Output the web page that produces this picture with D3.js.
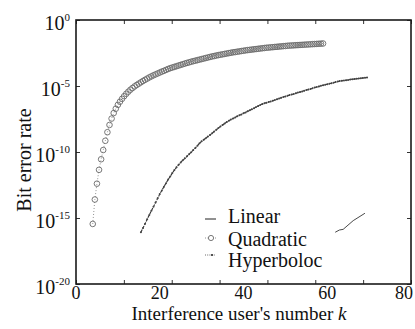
<!DOCTYPE html>
<html>
<head>
<meta charset="utf-8">
<script src="https://cdn.jsdelivr.net/npm/d3@7"></script>
<style>
  html, body { margin: 0; padding: 0; background: #fff; }
  svg text { font-family: "Liberation Serif", "DejaVu Serif", "Noto Serif", serif; }
</style>
</head>
<body>
<svg id="chart" width="415" height="329"></svg>
<script>
// ---- data (y stored as log10 of BER) ----
const seriesNames = ["Linear", "Quadratic", "Hyperboloc"];

const linearData = [[61.9, -16.08], [62.9, -15.91], [63.8, -15.86], [66.2, -15.2], [69.0, -14.64]];

const quadraticData = [
  [4.0,-15.45],[4.5,-13.60],[5.0,-12.40],[5.5,-11.35],[6.0,-10.55],[6.5,-9.85],[7.0,-9.15],[7.5,-8.50],
  [8.0,-7.95],[8.5,-7.47],[9.0,-7.05],[9.5,-6.72],[10.0,-6.43],[10.5,-6.19],[11.0,-5.97],[11.5,-5.77],
  [12.0,-5.59],[12.5,-5.43],[13.0,-5.28],[13.5,-5.15],[14.0,-5.03],[14.5,-4.92],[15.0,-4.82],[15.5,-4.72],
  [16.0,-4.62],[16.5,-4.53],[17.0,-4.44],[17.5,-4.35],[18.0,-4.27],[18.5,-4.19],[19.0,-4.12],[19.5,-4.05],
  [20.0,-3.98],[20.5,-3.91],[21.0,-3.85],[21.5,-3.78],[22.0,-3.71],[22.5,-3.65],[23.0,-3.60],[23.5,-3.55],
  [24.0,-3.50],[24.5,-3.45],[25.0,-3.40],[25.5,-3.35],[26.0,-3.30],[26.5,-3.25],[27.0,-3.21],[27.5,-3.16],
  [28.0,-3.12],[28.5,-3.08],[29.0,-3.04],[29.5,-3.00],[30.0,-2.96],[30.5,-2.92],[31.0,-2.88],[31.5,-2.84],
  [32.0,-2.80],[32.5,-2.76],[33.0,-2.73],[33.5,-2.69],[34.0,-2.66],[34.5,-2.63],[35.0,-2.60],[35.5,-2.57],
  [36.0,-2.54],[36.5,-2.51],[37.0,-2.48],[37.5,-2.45],[38.0,-2.43],[38.5,-2.40],[39.0,-2.38],[39.5,-2.35],
  [40.0,-2.33],[40.5,-2.30],[41.0,-2.28],[41.5,-2.26],[42.0,-2.24],[42.5,-2.22],[43.0,-2.20],[43.5,-2.18],
  [44.0,-2.16],[44.5,-2.14],[45.0,-2.12],[45.5,-2.10],[46.0,-2.09],[46.5,-2.07],[47.0,-2.06],[47.5,-2.04],
  [48.0,-2.03],[48.5,-2.01],[49.0,-2.00],[49.5,-1.98],[50.0,-1.97],[50.5,-1.95],[51.0,-1.94],[51.5,-1.93],
  [52.0,-1.92],[52.5,-1.91],[53.0,-1.90],[53.5,-1.89],[54.0,-1.88],[54.5,-1.87],[55.0,-1.86],[55.5,-1.85],
  [56.0,-1.84],[56.5,-1.83],[57.0,-1.82],[57.5,-1.81],[58.0,-1.80],[58.5,-1.79],[59.0,-1.78]
];

const hyperbolocData = [
  [15.5,-16.08],[16.0,-15.76],[16.5,-15.43],[17.0,-15.09],[17.5,-14.77],[18.0,-14.46],[18.5,-14.14],[19.0,-13.83],
  [19.5,-13.51],[20.0,-13.19],[20.5,-12.91],[21.0,-12.63],[21.5,-12.36],[22.0,-12.09],[22.5,-11.85],[23.0,-11.60],
  [23.5,-11.37],[24.0,-11.16],[24.5,-10.97],[25.0,-10.79],[25.5,-10.63],[26.0,-10.48],[26.5,-10.33],[27.0,-10.17],
  [27.5,-10.01],[28.0,-9.85],[28.5,-9.69],[29.0,-9.52],[29.5,-9.34],[30.0,-9.19],[30.5,-9.07],[31.0,-8.95],
  [31.5,-8.83],[32.0,-8.71],[32.5,-8.58],[33.0,-8.45],[33.5,-8.32],[34.0,-8.19],[34.5,-8.06],[35.0,-7.95],
  [35.5,-7.84],[36.0,-7.73],[36.5,-7.63],[37.0,-7.54],[37.5,-7.46],[38.0,-7.38],[38.5,-7.30],[39.0,-7.22],
  [39.5,-7.15],[40.0,-7.07],[40.5,-7.00],[41.0,-6.92],[41.5,-6.84],[42.0,-6.76],[42.5,-6.68],[43.0,-6.60],
  [43.5,-6.51],[44.0,-6.43],[44.5,-6.37],[45.0,-6.31],[45.5,-6.26],[46.0,-6.21],[46.5,-6.17],[47.0,-6.11],
  [47.5,-6.06],[48.0,-6.00],[48.5,-5.95],[49.0,-5.89],[49.5,-5.84],[50.0,-5.79],[50.5,-5.74],[51.0,-5.69],
  [51.5,-5.65],[52.0,-5.60],[52.5,-5.55],[53.0,-5.50],[53.5,-5.46],[54.0,-5.41],[54.5,-5.36],[55.0,-5.31],
  [55.5,-5.27],[56.0,-5.22],[56.5,-5.17],[57.0,-5.12],[57.5,-5.08],[58.0,-5.03],[58.5,-4.99],[59.0,-4.95],
  [59.5,-4.91],[60.0,-4.87],[60.5,-4.83],[61.0,-4.79],[61.5,-4.75],[62.0,-4.70],[62.5,-4.66],[63.0,-4.63],
  [63.5,-4.60],[64.0,-4.58],[64.5,-4.56],[65.0,-4.54],[65.5,-4.51],[66.0,-4.49],[66.5,-4.47],[67.0,-4.45],
  [67.5,-4.43],[68.0,-4.41],[68.5,-4.39],[69.0,-4.38],[69.5,-4.36]
];

const xLabelTicks = [0, 20, 40, 60, 80];
const xMarkTicks = [0, 11.43, 22.86, 34.29, 45.71, 57.14, 68.57, 80];
const yTickExps = [0, -5, -10, -15, -20];

// ---- layout ----
const L = 76, R = 411, T = 20, B = 284;
const svg = d3.select("#chart");

const x = d3.scaleLinear().domain([0, 80]).range([L, R]);
const y = d3.scaleLog().domain([1e-20, 1]).range([B, T]);
const P = e => Math.pow(10, e);

// ticks (inward) via axes
const tickLen = 4;
function styleTicks(g) {
  g.select(".domain").remove();
  g.selectAll("line").attr("stroke", "#333");
}
svg.append("g").attr("transform", `translate(0,${B})`)
  .call(d3.axisTop(x).tickValues(xMarkTicks).tickSize(tickLen).tickFormat("")).call(styleTicks);
svg.append("g").attr("transform", `translate(0,${T})`)
  .call(d3.axisBottom(x).tickValues(xMarkTicks).tickSize(tickLen).tickFormat("")).call(styleTicks);
svg.append("g").attr("transform", `translate(${L},0)`)
  .call(d3.axisRight(y).tickValues(yTickExps.map(P)).tickSize(tickLen).tickFormat("")).call(styleTicks);
svg.append("g").attr("transform", `translate(${R},0)`)
  .call(d3.axisLeft(y).tickValues(yTickExps.map(P)).tickSize(tickLen).tickFormat("")).call(styleTicks);

// frame
svg.append("rect").attr("x", L).attr("y", T).attr("width", R - L).attr("height", B - T)
  .attr("fill", "none").attr("stroke", "#1a1a1a").attr("stroke-width", 1.6);

// x tick labels
svg.append("g").selectAll("text").data(xLabelTicks).join("text")
  .attr("x", (d, i) => i === xLabelTicks.length - 1 ? x(d) + 2 : x(d))
  .attr("y", 299)
  .attr("text-anchor", (d, i) => i === xLabelTicks.length - 1 ? "end" : "middle")
  .attr("font-size", 18).attr("fill", "#111")
  .text(d => d);

// y tick labels 10^n
const yl = svg.append("g").selectAll("text").data(yTickExps).join("text")
  .attr("x", 70).attr("y", d => y(P(d)) + 10)
  .attr("text-anchor", "end").attr("fill", "#111").attr("font-size", 20);
yl.append("tspan").text("10");
yl.append("tspan").attr("font-size", 11).attr("dy", -9).text(d => d === 0 ? "0" : "-" + Math.abs(d));

// axis titles
svg.append("text").attr("transform", "translate(31,160) rotate(-90)")
  .attr("text-anchor", "middle").attr("font-size", 20).attr("fill", "#111")
  .text("Bit error rate");
const xt = svg.append("text").attr("x", 239).attr("y", 320).attr("text-anchor", "middle")
  .attr("font-size", 19).attr("fill", "#111");
xt.append("tspan").text("Interference user's number ");
xt.append("tspan").attr("font-style", "italic").text("k");

// series
const line = d3.line().x(d => x(d[0])).y(d => y(P(d[1])));

// Quadratic
svg.append("path").datum(quadraticData).attr("d", line)
  .attr("fill", "none").attr("stroke", "#777").attr("stroke-width", 0.8).attr("stroke-dasharray", "1,2");
svg.append("g").selectAll("circle").data(quadraticData).join("circle")
  .attr("cx", d => x(d[0])).attr("cy", d => y(P(d[1]))).attr("r", 2.8)
  .attr("fill", "none").attr("stroke", "#6a6a6a").attr("stroke-width", 0.9);

// Hyperboloc
svg.append("path").datum(hyperbolocData).attr("d", line)
  .attr("fill", "none").attr("stroke", "#333").attr("stroke-width", 1.1).attr("stroke-dasharray", "3,1");
svg.append("g").selectAll("circle").data(hyperbolocData).join("circle")
  .attr("cx", d => x(d[0])).attr("cy", d => y(P(d[1]))).attr("r", 1.0)
  .attr("fill", "#444");

// Linear
svg.append("path").datum(linearData).attr("d", line)
  .attr("fill", "none").attr("stroke", "#333").attr("stroke-width", 0.9);

// legend
const lg = svg.append("g");
const lx0 = 205, lx1 = 216, tx = 228;
const rows = [223, 246, 267];
lg.append("line").attr("x1", lx0).attr("x2", lx1).attr("y1", rows[0] - 4).attr("y2", rows[0] - 4)
  .attr("stroke", "#222").attr("stroke-width", 1);
lg.append("line").attr("x1", lx0).attr("x2", lx1).attr("y1", rows[1] - 8).attr("y2", rows[1] - 8)
  .attr("stroke", "#777").attr("stroke-width", 0.8).attr("stroke-dasharray", "1,1.5");
lg.append("circle").attr("cx", 211).attr("cy", rows[1] - 8).attr("r", 2.6)
  .attr("fill", "#fff").attr("stroke", "#6a6a6a").attr("stroke-width", 0.9);
lg.append("line").attr("x1", lx0).attr("x2", lx1).attr("y1", rows[2] - 12).attr("y2", rows[2] - 12)
  .attr("stroke", "#444").attr("stroke-width", 0.8).attr("stroke-dasharray", "1,1.2");
lg.append("circle").attr("cx", 212).attr("cy", rows[2] - 12).attr("r", 1.1).attr("fill", "#333");

lg.selectAll("text.lab").data(seriesNames).join("text").attr("class", "lab")
  .attr("x", tx).attr("y", (d, i) => rows[i]).attr("font-size", 20).attr("fill", "#111")
  .text(d => d);
</script>
</body>
</html>
